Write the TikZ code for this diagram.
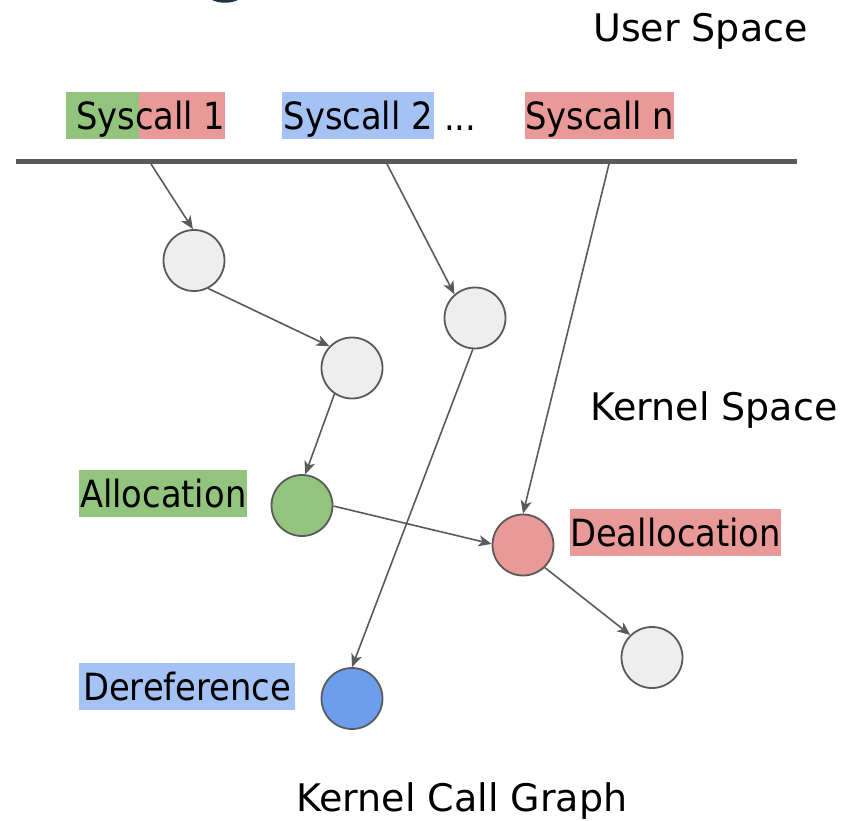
\documentclass[tikz,border=0pt]{standalone}
\usepackage{fontspec}
\setmainfont{DejaVu Sans}
\newfontfamily\tagfont[FakeStretch=0.9]{DejaVu Sans}
\usetikzlibrary{arrows.meta}

\definecolor{edgegray}{HTML}{5A5A5A}
\definecolor{nodegray}{HTML}{EEEEEE}
\definecolor{allocgreen}{HTML}{93C47D}
\definecolor{freered}{HTML}{EA9999}
\definecolor{tagblue}{HTML}{A4C2F4}
\definecolor{derefblue}{HTML}{6D9EEB}
\definecolor{inknavy}{HTML}{1F3347}

\begin{document}
\begin{tikzpicture}[x=1pt,y=-1pt,
  callnode/.style={circle, draw=edgegray, line width=1.8pt, minimum size=61pt, inner sep=0pt},
  tag/.style={font=\tagfont\fontsize{37.5}{40}\selectfont, anchor=west, inner xsep=0pt, inner ysep=0pt,
              text height=38pt, text depth=9pt, align=center},
  heading/.style={font=\fontsize{38}{42}\selectfont, inner sep=0pt, anchor=base west},
  call/.style={draw=edgegray, line width=1.6pt, -{Stealth[length=13pt,width=11pt,inset=3.5pt]}}
]
\useasboundingbox (0,0) rectangle (852,821);

% fragment of a letter cut off at the top edge
\begin{scope}
  \clip (0,0) rectangle (852,821);
  \fill[inknavy] (225,-8) ellipse [x radius=19.6pt, y radius=10.7pt];
\end{scope}

% user / kernel boundary
\draw[edgegray, line width=4.5pt] (16,161.5) -- (797,161.5);
\coordinate (s1) at (151,164);
\coordinate (s2) at (387,164);
\coordinate (sn) at (609,164);

% headings
\node[heading] (user) at (593,42) {User Space};
\node[heading] (kernel) at (590,420) {Kernel Space};
\node[heading] (graph) at (296,811) {Kernel Call Graph};

% syscall tags
\node[tag, minimum width=159pt,
      path picture={
        \fill[allocgreen] (path picture bounding box.south west) rectangle ([xshift=73pt]path picture bounding box.north west);
        \fill[freered] ([xshift=73pt]path picture bounding box.south west) rectangle (path picture bounding box.north east);
      }] (sys1) at (66,115.5) {\hspace*{10pt}Syscall 1};
\node[tag, fill=tagblue, minimum width=152pt] (sys2) at (282,115.5) {Syscall 2};
\node[font=\tagfont\fontsize{37.5}{40}\selectfont, inner sep=0pt, anchor=base west] (dots) at (444,131) {...};
\node[tag, fill=freered, minimum width=149pt] (sysn) at (525,115.5) {Syscall n};

% call graph nodes
\node[callnode, fill=nodegray] (c1) at (194,260.5) {};
\node[callnode, fill=nodegray] (c2) at (352,368) {};
\node[callnode, fill=nodegray] (c3) at (475,318) {};
\node[callnode, fill=allocgreen] (alloc) at (302,505.5) {};
\node[callnode, fill=freered] (free) at (523,545) {};
\node[callnode, fill=nodegray] (c4) at (652,657.5) {};
\node[callnode, fill=derefblue] (deref) at (352,698.5) {};

% event tags
\node[tag, fill=allocgreen, minimum width=168pt] (alloctag) at (79,493) {Allocation};
\node[tag, fill=freered, minimum width=206pt] (freetag) at (570,532) {Deallocation};
\node[tag, fill=tagblue, minimum width=216pt] (dereftag) at (79,686) {Dereference};

% call edges
\draw[call] (s1) -- (c1.92);
\draw[call] (c1.-63) -- (c2.136);
\draw[call] (c2.-124) -- (alloc.84);
\draw[call] (s2) -- (c3.131);
\draw[call] (c3.-94) -- (deref.90);
\draw[call] (sn) -- (free.90);
\draw[call] (alloc.-1) -- (free.178);
\draw[call] (free.-46) -- (c4.134);
\end{tikzpicture}
\end{document}
